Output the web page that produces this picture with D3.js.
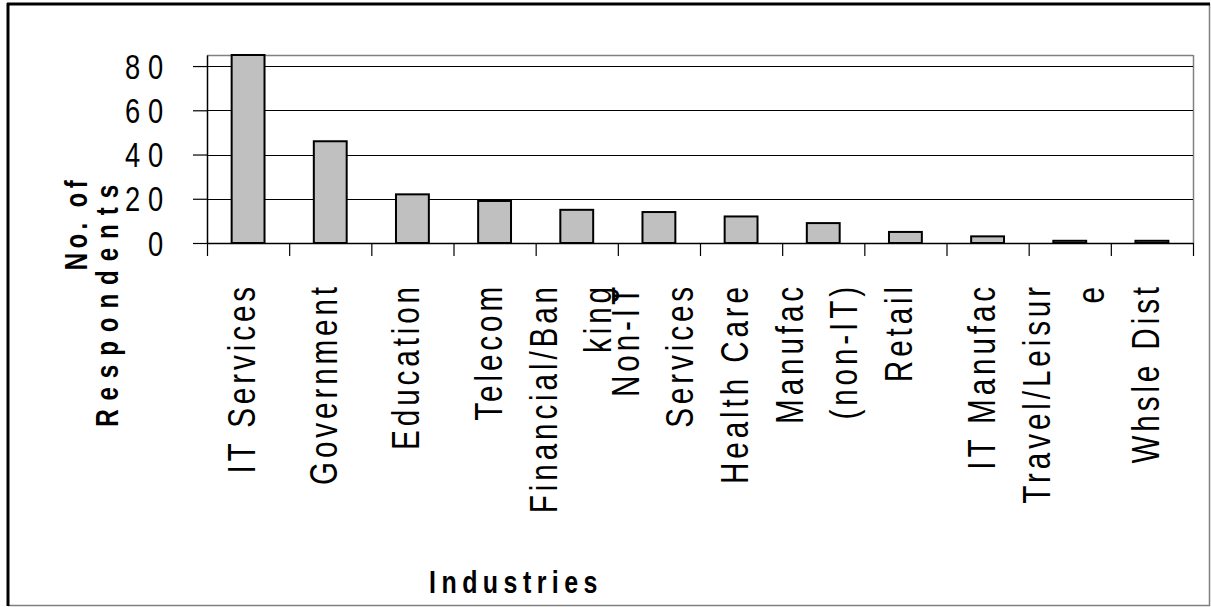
<!DOCTYPE html>
<html>
<head>
<meta charset="utf-8">
<script src="https://cdn.jsdelivr.net/npm/d3@7/dist/d3.min.js"></script>
<style>
  html, body { margin: 0; padding: 0; background: #fff; }
  svg { display: block; }
  text { font-family: "Liberation Sans", Arial, sans-serif; }
</style>
</head>
<body>
<svg id="chart" width="1211" height="607"></svg>
<script>
const categories = ["IT Services", "Government", "Education", "Telecom", "Financial/Banking",
  "Non-IT Services", "Health Care", "Manufac (non-IT)", "Retail", "IT Manufac", "Travel/Leisure", "Whsle Dist"];
const values = [85, 46, 22, 19, 15, 14, 12, 9, 5, 3, 1, 1];
const labelLines = [["IT Services"], ["Government"], ["Education"], ["Telecom"], ["Financial/Ban", "king"],
  ["Non-IT", "Services"], ["Health Care"], ["Manufac", "(non-IT)"], ["Retail"], ["IT Manufac"], ["Travel/Leisur", "e"], ["Whsle Dist"]];
const yTicks = [0, 20, 40, 60, 80];
const yTitleLines = ["No. of", "Respondents"];
const xTitle = "Industries";

const svg = d3.select("#chart");
const plot = { left: 207, right: 1193, top: 55, bottom: 243 };
const SX = 0.78; // horizontal glyph compression seen in the reference

// outer frame
svg.append("line").attr("x1", 1209.5).attr("x2", 1209.5).attr("y1", 4).attr("y2", 606).attr("stroke", "#808080").attr("stroke-width", 1.5);
svg.append("line").attr("x1", 8).attr("x2", 1210).attr("y1", 605.5).attr("y2", 605.5).attr("stroke", "#808080").attr("stroke-width", 1.5);
svg.append("line").attr("x1", 8).attr("x2", 8).attr("y1", 3).attr("y2", 606).attr("stroke", "#000").attr("stroke-width", 3);
svg.append("line").attr("x1", 7).attr("x2", 1210).attr("y1", 4).attr("y2", 4).attr("stroke", "#000").attr("stroke-width", 3);

const y = d3.scaleLinear().domain([0, 85]).range([plot.bottom, plot.top]);
const xCat = d3.scaleBand().domain(categories).range([plot.left, plot.right]).padding(0);
const xBar = d3.scaleBand().domain(categories).range([plot.left, plot.right]).paddingInner(0.6).paddingOuter(0.3);
const xIdx = d3.scaleLinear().domain([0, categories.length]).range([plot.left, plot.right]);

// plot area border (top/right gray)
svg.append("line").attr("x1", plot.left).attr("x2", plot.right).attr("y1", plot.top + 0.5).attr("y2", plot.top + 0.5).attr("stroke", "#808080").attr("stroke-width", 1.5);
svg.append("line").attr("x1", plot.right + 0.5).attr("x2", plot.right + 0.5).attr("y1", plot.top).attr("y2", plot.bottom).attr("stroke", "#808080").attr("stroke-width", 1.5);

// gridlines
svg.append("g").selectAll("line").data(yTicks.filter(d => d > 0)).join("line")
  .attr("x1", plot.left).attr("x2", plot.right)
  .attr("y1", d => Math.round(y(d)) + 0.5).attr("y2", d => Math.round(y(d)) + 0.5)
  .attr("stroke", "#000").attr("stroke-width", 1);

// y axis
const yAxis = svg.append("g").attr("transform", `translate(${plot.left},0)`)
  .call(d3.axisLeft(y).tickValues(yTicks).tickSize(14).tickSizeOuter(0).tickFormat(""));
yAxis.select(".domain").attr("stroke", "#000").attr("stroke-width", 1.5);
yAxis.selectAll(".tick line").attr("stroke", "#000").attr("stroke-width", 1.2);

// y tick labels (compressed, letter spaced)
svg.append("g").selectAll("text").data(yTicks).join("text")
  .attr("transform", d => `translate(171,${y(d)}) scale(${SX},1)`)
  .attr("dy", "0.36em")
  .attr("text-anchor", "end")
  .attr("font-size", 35)
  .attr("letter-spacing", 10)
  .attr("fill", "#000")
  .text(d => d);

// bars
svg.append("g").selectAll("rect").data(values).join("rect")
  .attr("x", (d, i) => xBar(categories[i]))
  .attr("width", xBar.bandwidth())
  .attr("y", d => y(d))
  .attr("height", d => y(0) - y(d))
  .attr("fill", "#c0c0c0")
  .attr("stroke", "#000")
  .attr("stroke-width", 2);

// x axis
const xAxis = svg.append("g").attr("transform", `translate(0,${plot.bottom})`)
  .call(d3.axisBottom(xIdx).tickValues(d3.range(categories.length + 1)).tickSize(13).tickSizeOuter(0).tickFormat(""));
xAxis.select(".domain").attr("stroke", "#000").attr("stroke-width", 1.5);
xAxis.selectAll(".tick line").attr("stroke", "#000").attr("stroke-width", 1.2);

// category labels (rotated, compressed along the text)
const lineH = 54;
const catG = svg.append("g");
categories.forEach((c, i) => {
  const cx = xCat(c) + xCat.bandwidth() / 2;
  const lines = labelLines[i];
  const n = lines.length;
  lines.forEach((ln, j) => {
    const base = cx + 7 + (j - (n - 1) / 2) * lineH;
    catG.append("text")
      .attr("transform", `translate(${base},283) rotate(-90) scale(${SX},1)`)
      .attr("text-anchor", "end")
      .attr("font-size", 38)
      .attr("letter-spacing", 5)
      .attr("fill", "#000")
      .text(ln);
  });
});

// y axis title
yTitleLines.forEach((ln, j) => {
  svg.append("text")
    .attr("transform", `translate(${87 + j * 31},176) rotate(-90) scale(${SX},1)`)
    .attr("text-anchor", "end")
    .attr("font-size", 31)
    .attr("font-weight", "bold")
    .attr("letter-spacing", j === 0 ? 5.5 : 11.4)
    .attr("fill", "#000")
    .text(ln);
});

// x axis title
svg.append("text")
  .attr("transform", `translate(516,593) scale(${SX},1)`)
  .attr("text-anchor", "middle")
  .attr("font-size", 32)
  .attr("font-weight", "bold")
  .attr("letter-spacing", 7)
  .attr("fill", "#000")
  .text(xTitle);
</script>
</body>
</html>
